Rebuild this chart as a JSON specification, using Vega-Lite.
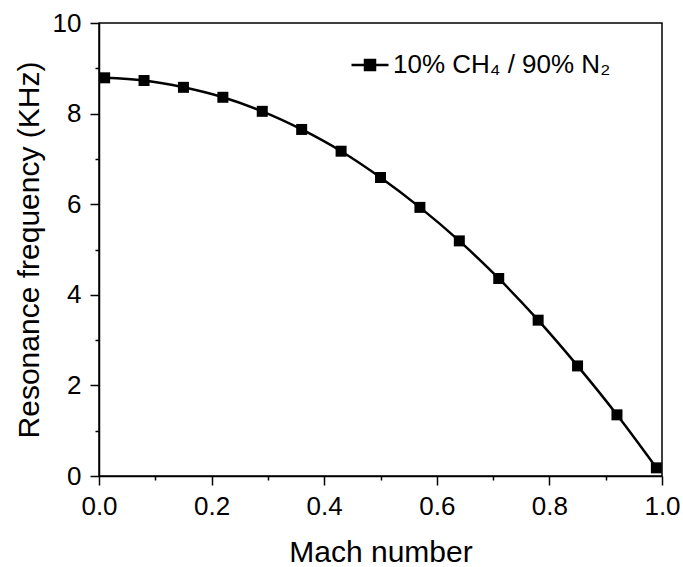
{
  "$schema": "https://vega.github.io/schema/vega-lite/v6.json",
  "autosize": "none",
  "width": 563,
  "height": 453,
  "padding": {"left": 99, "top": 23, "right": 21, "bottom": 91},
  "background": "white",
  "config": {
    "font": "Liberation Sans",
    "view": {"stroke": "black", "strokeWidth": 1.5},
    "axis": {
      "domainColor": "black",
      "domainWidth": 1.5,
      "tickColor": "black",
      "tickWidth": 1.5,
      "grid": false,
      "labelFont": "Liberation Sans",
      "labelColor": "black",
      "titleFont": "Liberation Sans",
      "titleFontWeight": "normal",
      "titleColor": "black"
    },
    "legend": {
      "labelFont": "Liberation Sans",
      "labelFontSize": 26,
      "labelColor": "black",
      "labelLimit": 0
    }
  },
  "data": {
    "values": [
      {"mach": 0.01, "freq": 8.79, "series": "10% CH₄ / 90% N₂"},
      {"mach": 0.08, "freq": 8.73, "series": "10% CH₄ / 90% N₂"},
      {"mach": 0.15, "freq": 8.58, "series": "10% CH₄ / 90% N₂"},
      {"mach": 0.22, "freq": 8.36, "series": "10% CH₄ / 90% N₂"},
      {"mach": 0.29, "freq": 8.05, "series": "10% CH₄ / 90% N₂"},
      {"mach": 0.36, "freq": 7.65, "series": "10% CH₄ / 90% N₂"},
      {"mach": 0.43, "freq": 7.17, "series": "10% CH₄ / 90% N₂"},
      {"mach": 0.50, "freq": 6.59, "series": "10% CH₄ / 90% N₂"},
      {"mach": 0.57, "freq": 5.93, "series": "10% CH₄ / 90% N₂"},
      {"mach": 0.64, "freq": 5.19, "series": "10% CH₄ / 90% N₂"},
      {"mach": 0.71, "freq": 4.36, "series": "10% CH₄ / 90% N₂"},
      {"mach": 0.78, "freq": 3.44, "series": "10% CH₄ / 90% N₂"},
      {"mach": 0.85, "freq": 2.43, "series": "10% CH₄ / 90% N₂"},
      {"mach": 0.92, "freq": 1.35, "series": "10% CH₄ / 90% N₂"},
      {"mach": 0.99, "freq": 0.18, "series": "10% CH₄ / 90% N₂"}
    ]
  },
  "encoding": {
    "x": {
      "field": "mach",
      "type": "quantitative",
      "scale": {"domain": [0, 1], "nice": false, "zero": false},
      "axis": {
        "title": "Mach number",
        "values": [0, 0.1, 0.2, 0.3, 0.4, 0.5, 0.6, 0.7, 0.8, 0.9, 1.0],
        "format": ".1f",
        "labelExpr": "round(datum.value*10) % 2 == 0 ? datum.label : ''",
        "tickSize": {"condition": {"test": "round(datum.value*10) % 2 == 0", "value": 9}, "value": 4},
        "labelFontSize": 26,
        "titleFontSize": 30,
        "labelPadding": 8,
        "titlePadding": 18,
        "labelFlush": false
      }
    },
    "y": {
      "field": "freq",
      "type": "quantitative",
      "scale": {"domain": [0, 10], "nice": false},
      "axis": {
        "title": "Resonance frequency (KHz)",
        "values": [0, 1, 2, 3, 4, 5, 6, 7, 8, 9, 10],
        "format": "d",
        "labelExpr": "datum.value % 2 == 0 ? datum.label : ''",
        "tickSize": {"condition": {"test": "datum.value % 2 == 0", "value": 9}, "value": 4},
        "labelFontSize": 26,
        "titleFontSize": 30,
        "labelPadding": 9,
        "titlePadding": 8,
        "labelFlush": false
      }
    },
    "color": {
      "field": "series",
      "type": "nominal",
      "scale": {"range": ["black"]},
      "legend": {
        "title": null,
        "orient": "none",
        "legendX": 251,
        "legendY": 22,
        "labelLimit": 0,
        "symbolType": "M-1,0H1M-0.27,-0.27H0.27V0.27H-0.27Z",
        "symbolSize": 1369,
        "symbolFillColor": "black",
        "symbolStrokeColor": "black",
        "symbolStrokeWidth": 2.5,
        "labelOffset": 3
      }
    }
  },
  "layer": [
    {
      "mark": {"type": "line", "interpolate": "monotone", "strokeWidth": 2.5}
    },
    {
      "mark": {"type": "point", "shape": "square", "filled": true, "size": 121, "opacity": 1}
    }
  ]
}
